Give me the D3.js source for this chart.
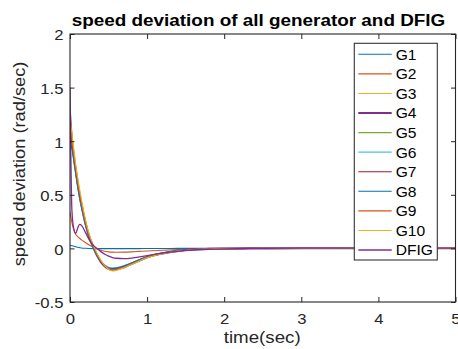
<!DOCTYPE html>
<html><head><meta charset="utf-8">
<script src="https://cdn.jsdelivr.net/npm/d3@7"></script>
<style>body{margin:0;background:#fff}svg{display:block}text{font-family:"Liberation Sans",Arial,sans-serif}</style>
</head><body>
<script>
// ---- data ----
const time = [0,0.025,0.05,0.075,0.1,0.125,0.15,0.2,0.25,0.3,0.35,0.4,0.45,0.5,0.55,0.6,0.7,0.8,0.9,1.0,1.2,1.4,1.6,1.8,2.0,2.5,3,4,5];
const G1  = [0.03,0.025,0.02,0.015,0.01,0.007,0.004,0.001,-0.001,-0.002,-0.002,-0.002,-0.002,-0.002,-0.002,-0.002,-0.002,-0.002,-0.002,-0.001,-0.001,0,0,0,0,0.001,0.002,0.003,0.003];
const G2  = [0.34,0.24,0.17,0.13,0.11,0.095,0.08,0.055,0.032,0.012,-0.004,-0.017,-0.026,-0.032,-0.035,-0.036,-0.035,-0.032,-0.028,-0.024,-0.017,-0.011,-0.007,-0.004,-0.002,0,0.002,0.003,0.003];
const G3  = [1.2,1.05,0.9,0.76,0.64,0.53,0.43,0.26,0.12,0.03,-0.05,-0.115,-0.16,-0.19,-0.2,-0.195,-0.175,-0.145,-0.115,-0.085,-0.048,-0.024,-0.011,-0.005,-0.002,0,0.002,0.003,0.003];
const G4  = [1.25,1.0,0.85,0.72,0.6,0.49,0.4,0.235,0.105,0.015,-0.065,-0.125,-0.165,-0.19,-0.2,-0.195,-0.175,-0.143,-0.112,-0.082,-0.046,-0.023,-0.01,-0.005,-0.002,0,0.002,0.003,0.003];
const G5  = [1.1,0.97,0.84,0.71,0.59,0.48,0.39,0.23,0.1,0.01,-0.065,-0.12,-0.16,-0.18,-0.19,-0.185,-0.165,-0.137,-0.107,-0.078,-0.044,-0.021,-0.01,-0.004,-0.002,0,0.002,0.003,0.003];
const G6  = [1.05,0.95,0.83,0.7,0.58,0.47,0.38,0.22,0.095,0.005,-0.065,-0.12,-0.155,-0.175,-0.18,-0.178,-0.16,-0.133,-0.104,-0.076,-0.043,-0.021,-0.01,-0.004,-0.002,0,0.002,0.003,0.003];
const G7  = [1.12,0.98,0.85,0.72,0.6,0.49,0.4,0.235,0.105,0.015,-0.063,-0.122,-0.162,-0.186,-0.195,-0.19,-0.17,-0.14,-0.11,-0.08,-0.045,-0.022,-0.01,-0.005,-0.002,0,0.002,0.003,0.003];
const G8  = [1.0,0.93,0.82,0.7,0.58,0.475,0.385,0.225,0.1,0.01,-0.066,-0.12,-0.158,-0.18,-0.188,-0.183,-0.164,-0.136,-0.106,-0.078,-0.044,-0.021,-0.01,-0.004,-0.002,0,0.002,0.003,0.003];
const G9  = [1.15,1.01,0.87,0.74,0.62,0.51,0.415,0.245,0.115,0.025,-0.055,-0.115,-0.158,-0.186,-0.198,-0.194,-0.174,-0.143,-0.113,-0.083,-0.047,-0.023,-0.011,-0.005,-0.002,0,0.002,0.003,0.003];
const G10 = [1.22,1.07,0.92,0.78,0.66,0.55,0.45,0.27,0.13,0.035,-0.045,-0.11,-0.16,-0.195,-0.21,-0.205,-0.18,-0.15,-0.118,-0.088,-0.05,-0.025,-0.012,-0.006,-0.002,0,0.002,0.003,0.003];
const DFIG = [1.5,0.35,0.18,0.14,0.19,0.225,0.215,0.15,0.08,0.03,0.0,-0.03,-0.055,-0.072,-0.085,-0.092,-0.095,-0.09,-0.08,-0.068,-0.045,-0.027,-0.015,-0.008,-0.004,0,0.002,0.003,0.003];

const seriesNames = ["G1","G2","G3","G4","G5","G6","G7","G8","G9","G10","DFIG"];
const seriesValues = [G1,G2,G3,G4,G5,G6,G7,G8,G9,G10,DFIG];
const xTicks = [0,1,2,3,4,5];
const yTicks = [-0.5,0,0.5,1,1.5,2];
const titleText = "speed deviation of all generator and DFIG";
const xLabel = "time(sec)";
const yLabel = "speed deviation (rad/sec)";

// ---- styles ----
const colors = ["#0072BD","#D95319","#EDB120","#7E2F8E","#77AC30","#4DBEEE","#A2142F","#0072BD","#D95319","#EDB120","#7E2F8E"];
const widths = [1.1,1.1,1.1,2.2,1.1,1.1,1.1,1.1,1.1,1.1,1.3];
const axisColor = "#262626";

const W = 458, H = 349;
const L = 70, R = 455.5, T = 34, B = 302;

const svg = d3.select("body").append("svg").attr("width", W).attr("height", H);

const x = d3.scaleLinear().domain([0,5]).range([L,R]);
const y = d3.scaleLinear().domain([-0.5,2]).range([B,T]);

function stretch(sel, s){
  sel.each(function(){
    const len = this.getComputedTextLength();
    d3.select(this).attr("textLength", len*s).attr("lengthAdjust","spacingAndGlyphs");
  });
}

// clip
svg.append("defs").append("clipPath").attr("id","clip")
  .append("rect").attr("x",L).attr("y",T).attr("width",R-L).attr("height",B-T);

// lines
const line = d3.line().x((d,i)=>x(time[i])).y(d=>y(d)).curve(d3.curveMonotoneX);
const gLines = svg.append("g").attr("clip-path","url(#clip)");
seriesValues.forEach((vals,i)=>{
  gLines.append("path").attr("d", line(vals)).attr("fill","none")
    .attr("stroke", colors[i]).attr("stroke-width", widths[i]).attr("stroke-linejoin","round");
});

// axes
const tickFont = 14.5;
function styleAxis(g){
  g.select(".domain").remove();
  g.selectAll(".tick line").attr("stroke", axisColor).attr("stroke-width",1);
  g.selectAll(".tick text").attr("fill", axisColor).style("font-size", tickFont+"px").attr("font-family", null);
}
const gx = svg.append("g").attr("transform",`translate(0,${B})`)
  .call(d3.axisBottom(x).tickValues(xTicks).tickFormat(d3.format("")).tickSizeInner(-5).tickSizeOuter(0).tickPadding(12.2));
styleAxis(gx);
const gy = svg.append("g").attr("transform",`translate(${L},0)`)
  .call(d3.axisLeft(y).tickValues(yTicks).tickFormat(d=>String(d)).tickSizeInner(-4.5).tickSizeOuter(0).tickPadding(6.5));
styleAxis(gy);
gy.selectAll(".tick text").attr("dy","0.41em");
const gt = svg.append("g").attr("transform",`translate(0,${T})`)
  .call(d3.axisTop(x).tickValues(xTicks).tickFormat("").tickSizeInner(-5).tickSizeOuter(0));
styleAxis(gt);
const gr = svg.append("g").attr("transform",`translate(${R},0)`)
  .call(d3.axisRight(y).tickValues(yTicks).tickFormat("").tickSizeInner(-4.5).tickSizeOuter(0));
styleAxis(gr);
stretch(gx.selectAll(".tick text"), 1.15);
stretch(gy.selectAll(".tick text"), 1.15);

svg.append("rect").attr("x",L).attr("y",T).attr("width",R-L).attr("height",B-T)
  .attr("fill","none").attr("stroke",axisColor).attr("stroke-width",1.1);

// title and labels
const tt = svg.append("text").attr("x",258.5).attr("y",26).attr("text-anchor","middle")
  .style("font-size","16.3px").style("font-weight","bold").attr("fill","#000").text(titleText);
stretch(tt, 1.16);
const xl = svg.append("text").attr("x",262.2).attr("y",343).attr("text-anchor","middle")
  .style("font-size","16.3px").attr("fill",axisColor).text(xLabel);
stretch(xl, 1.15);
const yl = svg.append("text").attr("transform","translate(24.9,164) rotate(-90)").attr("text-anchor","middle")
  .style("font-size","16.3px").attr("fill",axisColor).text(yLabel);
stretch(yl, 1.12);

// legend
const lg = svg.append("g");
lg.append("rect").attr("x",354.3).attr("y",43.3).attr("width",83).attr("height",216.7)
  .attr("fill","#fff").attr("stroke","#333").attr("stroke-width",1.1);
seriesNames.forEach((n,i)=>{
  const cy = 54.3 + i*19.57;
  lg.append("line").attr("x1",358.3).attr("x2",391.7).attr("y1",cy).attr("y2",cy)
    .attr("stroke",colors[i]).attr("stroke-width",widths[i]);
  const t = lg.append("text").attr("x",395.7).attr("y",cy).attr("dy","0.36em")
    .style("font-size","15px").attr("fill","#000").text(n);
  stretch(t, 1.04);
});
</script>
</body></html>
